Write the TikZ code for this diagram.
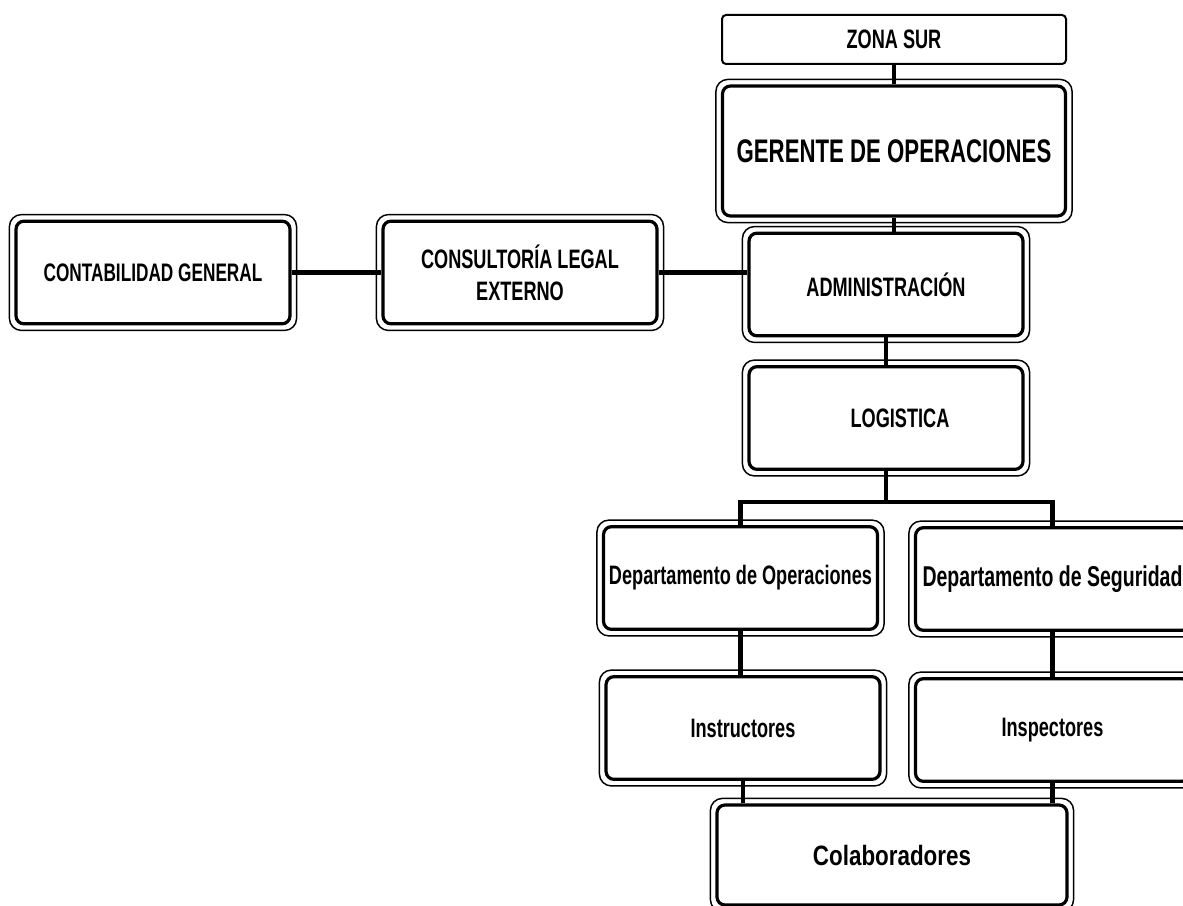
\documentclass[tikz,border=0pt]{standalone}
\usepackage{fontspec}
\setmainfont{Liberation Sans}[FakeStretch=0.68]
\newfontfamily\widesans{Liberation Sans}[FakeStretch=0.8]

\begin{document}
\begin{tikzpicture}[x=0.75pt,y=-0.75pt,
  unit/.style={draw,line width=2.4pt,rounded corners=6pt,inner sep=0pt,
               minimum width=205.5pt,minimum height=77pt,align=center,
               font=\bfseries\fontsize{20}{24}\selectfont},
  frame/.style={draw,line width=1.1pt,rounded corners=9pt},
  tag/.style={draw,line width=1.5pt,rounded corners=3pt,inner sep=0pt,
              minimum width=258pt,minimum height=36.75pt,
              font=\bfseries\fontsize{20}{24}\selectfont},
  link/.style={line width=3.5pt}]

  \useasboundingbox (0,0) rectangle (1183,906);

  % ===== top of the chart =====
  \node[tag] (zona) at (894,39.5) {ZONA SUR};
  \node[unit,minimum width=257.25pt,minimum height=97.5pt,
        font=\bfseries\fontsize{24.5}{29}\selectfont] (gerente) at (894,151) {GERENTE DE OPERACIONES};
  \node[unit] (admin) at (886,284.5) {ADMINISTRACIÓN};
  \node[unit] (logistica) at (886,418) {\hspace*{21pt}LOGISTICA};

  % ===== staff line on the left =====
  \node[unit,font=\bfseries\fontsize{19}{23}\selectfont] (contab) at (153,272.5) {CONTABILIDAD GENERAL};
  \node[unit] (consult) at (520,272.5) {CONSULTORÍA LEGAL\\EXTERNO};

  % ===== departments and staff =====
  \node[unit] (deptop) at (740.5,578) {Departamento de Operaciones};
  \node[unit,font=\bfseries\fontsize{21.5}{26}\selectfont] (deptseg) at (1052.5,579) {Departamento de Seguridad};
  \node[unit] (instructores) at (743,728) {Instructores};
  \node[unit] (inspectores) at (1052.5,730) {Inspectores};
  \node[unit,minimum width=262.5pt,minimum height=75pt,
        font=\widesans\bfseries\fontsize{21}{25}\selectfont] (colab) at (892,855) {Colaboradores};

  % ===== outer thin frames =====
  \foreach \b in {gerente,admin,logistica,contab,consult,deptop,deptseg,instructores,inspectores,colab}
    \draw[frame] ([shift={(-5,-5)}]\b.north west) rectangle ([shift={(5,5)}]\b.south east);

  % ===== connectors =====
  \draw[link] (zona) -- (gerente);
  \draw[link] (gerente.south) -- (gerente.south |- admin.north);
  \draw[link] (admin) -- (logistica);
  \draw[link] (contab) -- (consult);
  \draw[link] (consult) -- (consult -| admin.west);
  \coordinate (fork) at (886,502);
  \draw[link] (logistica) -- (fork);
  \draw[link] (deptop) |- (fork) -| (deptseg);
  \draw[link] (deptop) -- (deptop |- instructores.north);
  \draw[link] (deptseg) -- (deptseg |- inspectores.north);
  \draw[link] (instructores) -- (instructores |- colab.north);
  \draw[link] (inspectores) -- (inspectores |- colab.north);

\end{tikzpicture}
\end{document}
